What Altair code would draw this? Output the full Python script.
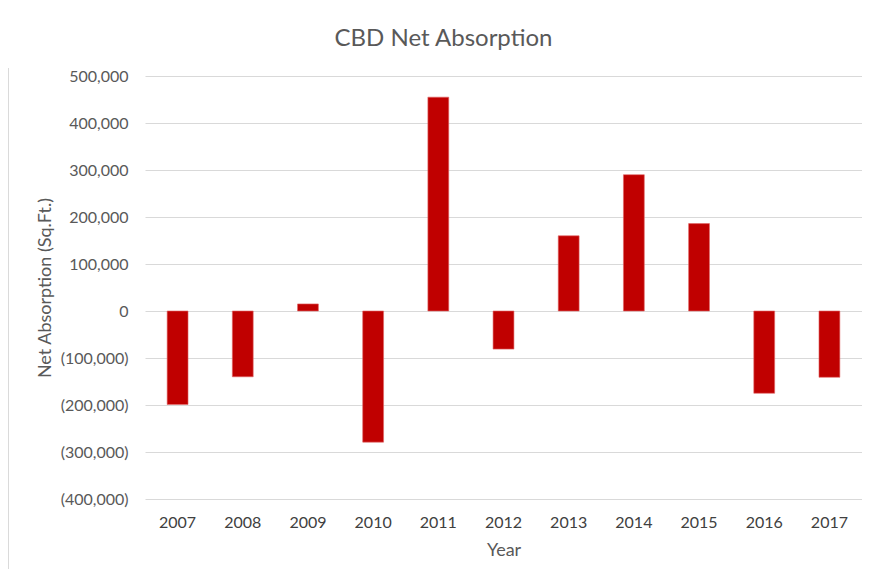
import altair as alt
import pandas as pd

years = ["2007", "2008", "2009", "2010", "2011", "2012", "2013", "2014", "2015", "2016", "2017"]
absorption = [-199000, -140000, 15000, -279000, 455000, -81000, 160000, 290000, 186000, -175000, -141000]

df = pd.DataFrame({"Year": years, "Absorption": absorption})

W, H = 717, 423
FONT = "Lato"
GREY = "#595959"

label_expr = ("datum.value < 0 ? '(' + format(-datum.value, ',') + ')' : "
              "(datum.value == 0 ? '0' : format(datum.value, ','))")

bars = alt.Chart(df).mark_bar(color="#C00000", stroke="#E06666", strokeWidth=0.6).encode(
    x=alt.X("Year:N", sort=years,
            scale=alt.Scale(paddingInner=0.68, paddingOuter=0.34),
            axis=alt.Axis(title="Year", labelAngle=0, domain=False, ticks=False,
                          labelPadding=15, labelFontSize=16, labelColor="#404040",
                          titleFontSize=18, titleColor=GREY, titleFontWeight="normal",
                          titlePadding=11, labelFont=FONT, titleFont=FONT)),
    y=alt.Y("Absorption:Q",
            scale=alt.Scale(domain=[-400000, 500000], nice=False, zero=True),
            axis=alt.Axis(title="Net Absorption (Sq.Ft.)", values=list(range(-400000, 500001, 100000)),
                          labelExpr=label_expr, domain=False, ticks=False,
                          labelPadding=17, labelFontSize=16, labelColor=GREY,
                          gridColor="#D9D9D9", gridWidth=1,
                          titleFontSize=18, titleColor=GREY, titleFontWeight="normal",
                          titlePadding=6, labelFont=FONT, titleFont=FONT)),
)

frame = alt.Chart(df).mark_rule(color="#D9D9D9", strokeWidth=1, clip=False).encode(
    x=alt.value(-137), y=alt.value(-8), y2=alt.value(H + 85)
)

chart = alt.layer(bars, frame).properties(
    width=W, height=H,
    title=alt.TitleParams("CBD Net Absorption", fontSize=24, color=GREY, font=FONT,
                          fontWeight="normal", anchor="middle", dx=-60, offset=17),
    autosize=alt.AutoSizeParams(type="none"),
    padding={"left": 137, "top": 68, "right": 0, "bottom": 70},
).configure_view(stroke=None).configure_axis(grid=True).configure_axisX(grid=False)

chart.save("out.html", embed_options={"renderer": "svg", "actions": False})
